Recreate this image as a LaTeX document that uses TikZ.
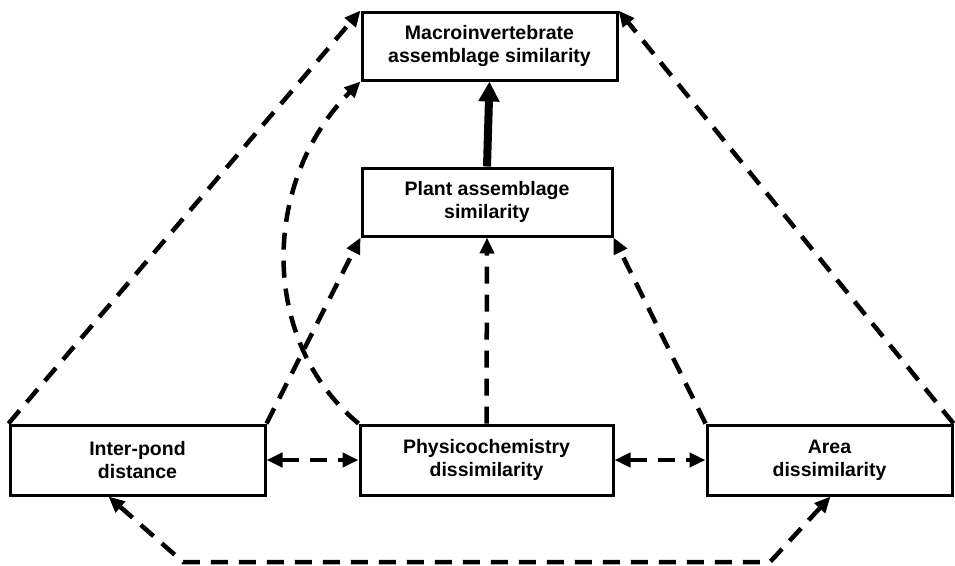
\documentclass[tikz,border=0pt]{standalone}
\usepackage{fontspec}
\setmainfont{Liberation Sans}
\usetikzlibrary{arrows.meta,calc}
\begin{document}
\begin{tikzpicture}[x=1pt,y=-1pt,
  box/.style={draw,line width=3pt,rectangle,align=center,inner sep=0pt,
    font=\bfseries\fontsize{19.5}{23}\selectfont},
  dsh/.style={line width=4.5pt,dash pattern=on 17pt off 11pt},
  tipend/.style={-{Triangle[length=16pt,width=14pt]}},
  tipboth/.style={{Triangle[length=16pt,width=14pt]}-{Triangle[length=16pt,width=14pt]}},
]
\useasboundingbox (0,0) rectangle (955,565);
\node[box,minimum width=255pt,minimum height=68pt] (macro) at (489.5,46) {Macroinvertebrate\\assemblage similarity};
\node[box,minimum width=250pt,minimum height=68pt] (plant) at (487,202) {Plant assemblage\\similarity};
\node[box,minimum width=255pt,minimum height=70pt] (ip) at (137.5,460) {Inter-pond\\distance};
\node[box,minimum width=253pt,minimum height=70pt] (phys) at (486.5,460) {Physicochemistry\\dissimilarity};
\node[box,minimum width=245pt,minimum height=70pt] (area) at (829.5,460) {Area\\dissimilarity};

% solid thick
\draw[line width=8pt,-{Triangle[length=20pt,width=20pt]}] (plant.north) -- (macro.south);
% dashed into plant
\draw[dsh,tipend] (phys.north) -- (plant.south);
\draw[dsh,tipend] (ip.north east) -- (plant.south west);
\draw[dsh,tipend] (area.north west) -- (plant.south east);
% dashed into macro
\draw[dsh,tipend] (ip.north west) -- (macro.north west);
\draw[dsh,tipend] (area.north east) -- (macro.north east);
\draw[dsh,tipend] (phys.north west) .. controls (258,340) and (262,180) .. (macro.south west);
% double arrows
\draw[dsh,tipboth] (ip.east) -- (phys.west);
\draw[dsh,tipboth] (phys.east) -- (area.west);
\coordinate (bl) at (183,562);
\coordinate (br) at (770,562);
\draw[dsh,tipboth] ([xshift=100pt]ip.south west) -- (bl) -- (br) -- ([xshift=125pt]area.south west);
\end{tikzpicture}
\end{document}
